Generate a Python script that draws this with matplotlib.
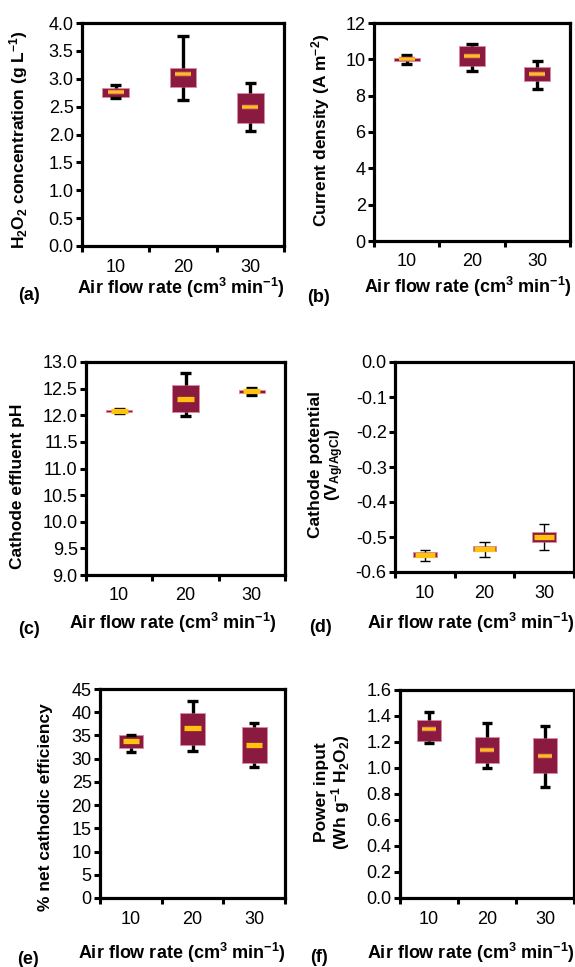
import matplotlib
matplotlib.use('Agg')
import matplotlib.pyplot as plt
import matplotlib.patheffects as pe
import numpy as np

plt.rcParams['font.family'] = ['Liberation Sans', 'DejaVu Sans']
plt.rcParams['mathtext.fontset'] = 'custom'
plt.rcParams['mathtext.rm'] = 'Liberation Sans:bold'
plt.rcParams['mathtext.it'] = 'Liberation Sans:bold'
plt.rcParams['mathtext.bf'] = 'Liberation Sans:bold'
plt.rcParams['axes.unicode_minus'] = False

# ---------------- data ----------------
categories = ['10', '20', '30']

# (a) H2O2 concentration (g L-1)
h2o2_whislo = [2.65, 2.61, 2.07]
h2o2_q1 = [2.68, 2.86, 2.20]
h2o2_med = [2.76, 3.08, 2.49]
h2o2_q3 = [2.84, 3.20, 2.75]
h2o2_whishi = [2.88, 3.77, 2.93]

# (b) Current density (A m-2)
cd_whislo = [9.76, 9.36, 8.39]
cd_q1 = [9.90, 9.63, 8.81]
cd_med = [10.0, 10.18, 9.17]
cd_q3 = [10.09, 10.73, 9.58]
cd_whishi = [10.25, 10.85, 9.89]

# (c) Cathode effluent pH
ph_whislo = [12.04, 11.99, 12.38]
ph_q1 = [12.07, 12.06, 12.42]
ph_med = [12.08, 12.31, 12.45]
ph_q3 = [12.09, 12.57, 12.47]
ph_whishi = [12.11, 12.79, 12.51]

# (d) Cathode potential (V Ag/AgCl)
pot_whislo = [-0.569, -0.557, -0.536]
pot_q1 = [-0.557, -0.540, -0.514]
pot_med = [-0.551, -0.533, -0.499]
pot_q3 = [-0.544, -0.527, -0.487]
pot_whishi = [-0.536, -0.515, -0.462]

# (e) % net cathodic efficiency
eff_whislo = [31.5, 31.7, 28.1]
eff_q1 = [32.2, 32.9, 29.0]
eff_med = [33.7, 36.7, 32.9]
eff_q3 = [35.0, 39.9, 36.9]
eff_whishi = [35.2, 42.5, 37.7]

# (f) Power input (Wh g-1 H2O2)
pw_whislo = [1.19, 1.00, 0.855]
pw_q1 = [1.21, 1.04, 0.958]
pw_med = [1.297, 1.138, 1.094]
pw_q3 = [1.369, 1.24, 1.227]
pw_whishi = [1.43, 1.35, 1.32]

# ---------------- style ----------------
MAROON = '#8B1A40'
EDGE = '#D98A9E'
YELLOW = '#FFC20E'
YEDGE = '#E8875A'

W, H = 575, 967
fig = plt.figure(figsize=(W / 100, H / 100), dpi=100)


def add_ax(l, r, t, b):
    return fig.add_axes([l / W, 1 - b / H, (r - l) / W, (b - t) / H])


def px(x, y):
    return x / W, 1 - y / H


def draw(ax, lo, q1, med, q3, hi, ylim, yticks, yfmt,
         wlw=2.4, mlw=1.6, mfrac=0.6, medge=True):
    pos = np.arange(len(categories)) + 0.5
    stats = [dict(whislo=a, q1=b, med=c, q3=d, whishi=e, fliers=[])
             for a, b, c, d, e in zip(lo, q1, med, q3, hi)]
    ax.bxp(stats, positions=pos, widths=0.4, capwidths=0.17,
           showfliers=False, patch_artist=True, manage_ticks=False,
           boxprops=dict(facecolor=MAROON, edgecolor=EDGE, linewidth=0.7),
           whiskerprops=dict(color='black', linewidth=wlw, solid_capstyle='butt'),
           capprops=dict(color='black', linewidth=wlw, solid_capstyle='butt'),
           medianprops=dict(linewidth=0))
    effects = [pe.Stroke(linewidth=mlw + 1.6, foreground=YEDGE), pe.Normal()] if medge else None
    ax.hlines(med, pos - 0.2 * mfrac, pos + 0.2 * mfrac, colors=YELLOW,
              linewidth=mlw, zorder=5, path_effects=effects)
    ax.set_xlim(0, len(categories))
    ax.set_ylim(*ylim)
    ax.set_yticks(yticks)
    ax.set_yticklabels([yfmt.format(v) for v in yticks])
    ax.set_xticks(np.arange(len(categories) + 1))
    ax.set_xticklabels([])
    ax.set_xticks(pos, minor=True)
    ax.set_xticklabels(categories, minor=True)
    ax.tick_params(axis='x', which='major', direction='out', length=4, width=2.2)
    ax.tick_params(axis='x', which='minor', length=0, pad=9, labelsize=13)
    ax.tick_params(axis='y', direction='out', length=4, width=2.2, pad=2, labelsize=13)
    for s in ax.spines.values():
        s.set_linewidth(2.3)


LAB = dict(fontsize=12.5, fontweight='bold')
XL = dict(fontsize=13, fontweight='bold')
XLAB = 'Air flow rate (cm$^3$ min$^{-1}$)'

# (a)
ax = add_ax(82, 284, 23, 246)
draw(ax, h2o2_whislo, h2o2_q1, h2o2_med, h2o2_q3, h2o2_whishi,
     (0, 4.0), np.arange(0, 4.01, 0.5), '{:.1f}')
fig.text(*px(19, 140), 'H$_2$O$_2$ concentration (g L$^{-1}$)', rotation=90,
         ha='center', va='center', **LAB)
fig.text(*px(181, 288), XLAB, ha='center', va='center', **XL)
fig.text(*px(29, 296), '(a)', ha='center', va='center', **XL)

# (b)
ax = add_ax(374, 570, 23, 241)
draw(ax, cd_whislo, cd_q1, cd_med, cd_q3, cd_whishi,
     (0, 12), np.arange(0, 12.1, 2), '{:.0f}')
fig.text(*px(321, 130), 'Current density (A m$^{-2}$)', rotation=90,
         ha='center', va='center', **LAB)
fig.text(*px(468, 287), XLAB, ha='center', va='center', **XL)
fig.text(*px(319, 298), '(b)', ha='center', va='center', **XL)

# (c)
ax = add_ax(86, 285, 362, 575)
draw(ax, ph_whislo, ph_q1, ph_med, ph_q3, ph_whishi,
     (9.0, 13.0), np.arange(9.0, 13.01, 0.5), '{:.1f}',
     mlw=3.8, mfrac=0.65, medge=False)
fig.text(*px(18, 486), 'Cathode effluent pH', rotation=90,
         ha='center', va='center', **LAB)
fig.text(*px(173, 623), XLAB, ha='center', va='center', **XL)
fig.text(*px(29, 629), '(c)', ha='center', va='center', **XL)

# (d)
ax = add_ax(395, 574, 362, 572)
draw(ax, pot_whislo, pot_q1, pot_med, pot_q3, pot_whishi,
     (-0.6, 0.0), np.arange(-0.6, 0.001, 0.1), '{:.1f}',
     wlw=1.0, mlw=3.8, mfrac=0.85, medge=False)
ax.set_yticklabels(['{:.1f}'.format(v) if abs(v) > 1e-9 else '0.0'
                    for v in np.arange(-0.6, 0.001, 0.1)])
fig.text(*px(327, 465), 'Cathode potential\n(V$_{Ag/AgCl}$)', rotation=90,
         ha='center', va='center', linespacing=1.0, **LAB)
fig.text(*px(471, 623), XLAB, ha='center', va='center', **XL)
fig.text(*px(321, 627), '(d)', ha='center', va='center', **XL)

# (e)
ax = add_ax(100, 285, 689, 898)
draw(ax, eff_whislo, eff_q1, eff_med, eff_q3, eff_whishi,
     (0, 45), np.arange(0, 45.1, 5), '{:.0f}',
     mlw=3.8, mfrac=0.65, medge=False)
fig.text(*px(46, 807), '% net cathodic efficiency', rotation=90,
         ha='center', va='center', **LAB)
fig.text(*px(182, 953), XLAB, ha='center', va='center', **XL)
fig.text(*px(28, 959), '(e)', ha='center', va='center', **XL)

# (f)
ax = add_ax(400, 574, 690, 898)
draw(ax, pw_whislo, pw_q1, pw_med, pw_q3, pw_whishi,
     (0, 1.6), np.arange(0, 1.601, 0.2), '{:.1f}')
fig.text(*px(333, 792), 'Power input\n(Wh g$^{-1}$ H$_2$O$_2$)', rotation=90,
         ha='center', va='center', linespacing=1.0, **LAB)
fig.text(*px(471, 953), XLAB, ha='center', va='center', **XL)
fig.text(*px(319, 958), '(f)', ha='center', va='center', **XL)

fig.savefig('out.png', dpi=100)
